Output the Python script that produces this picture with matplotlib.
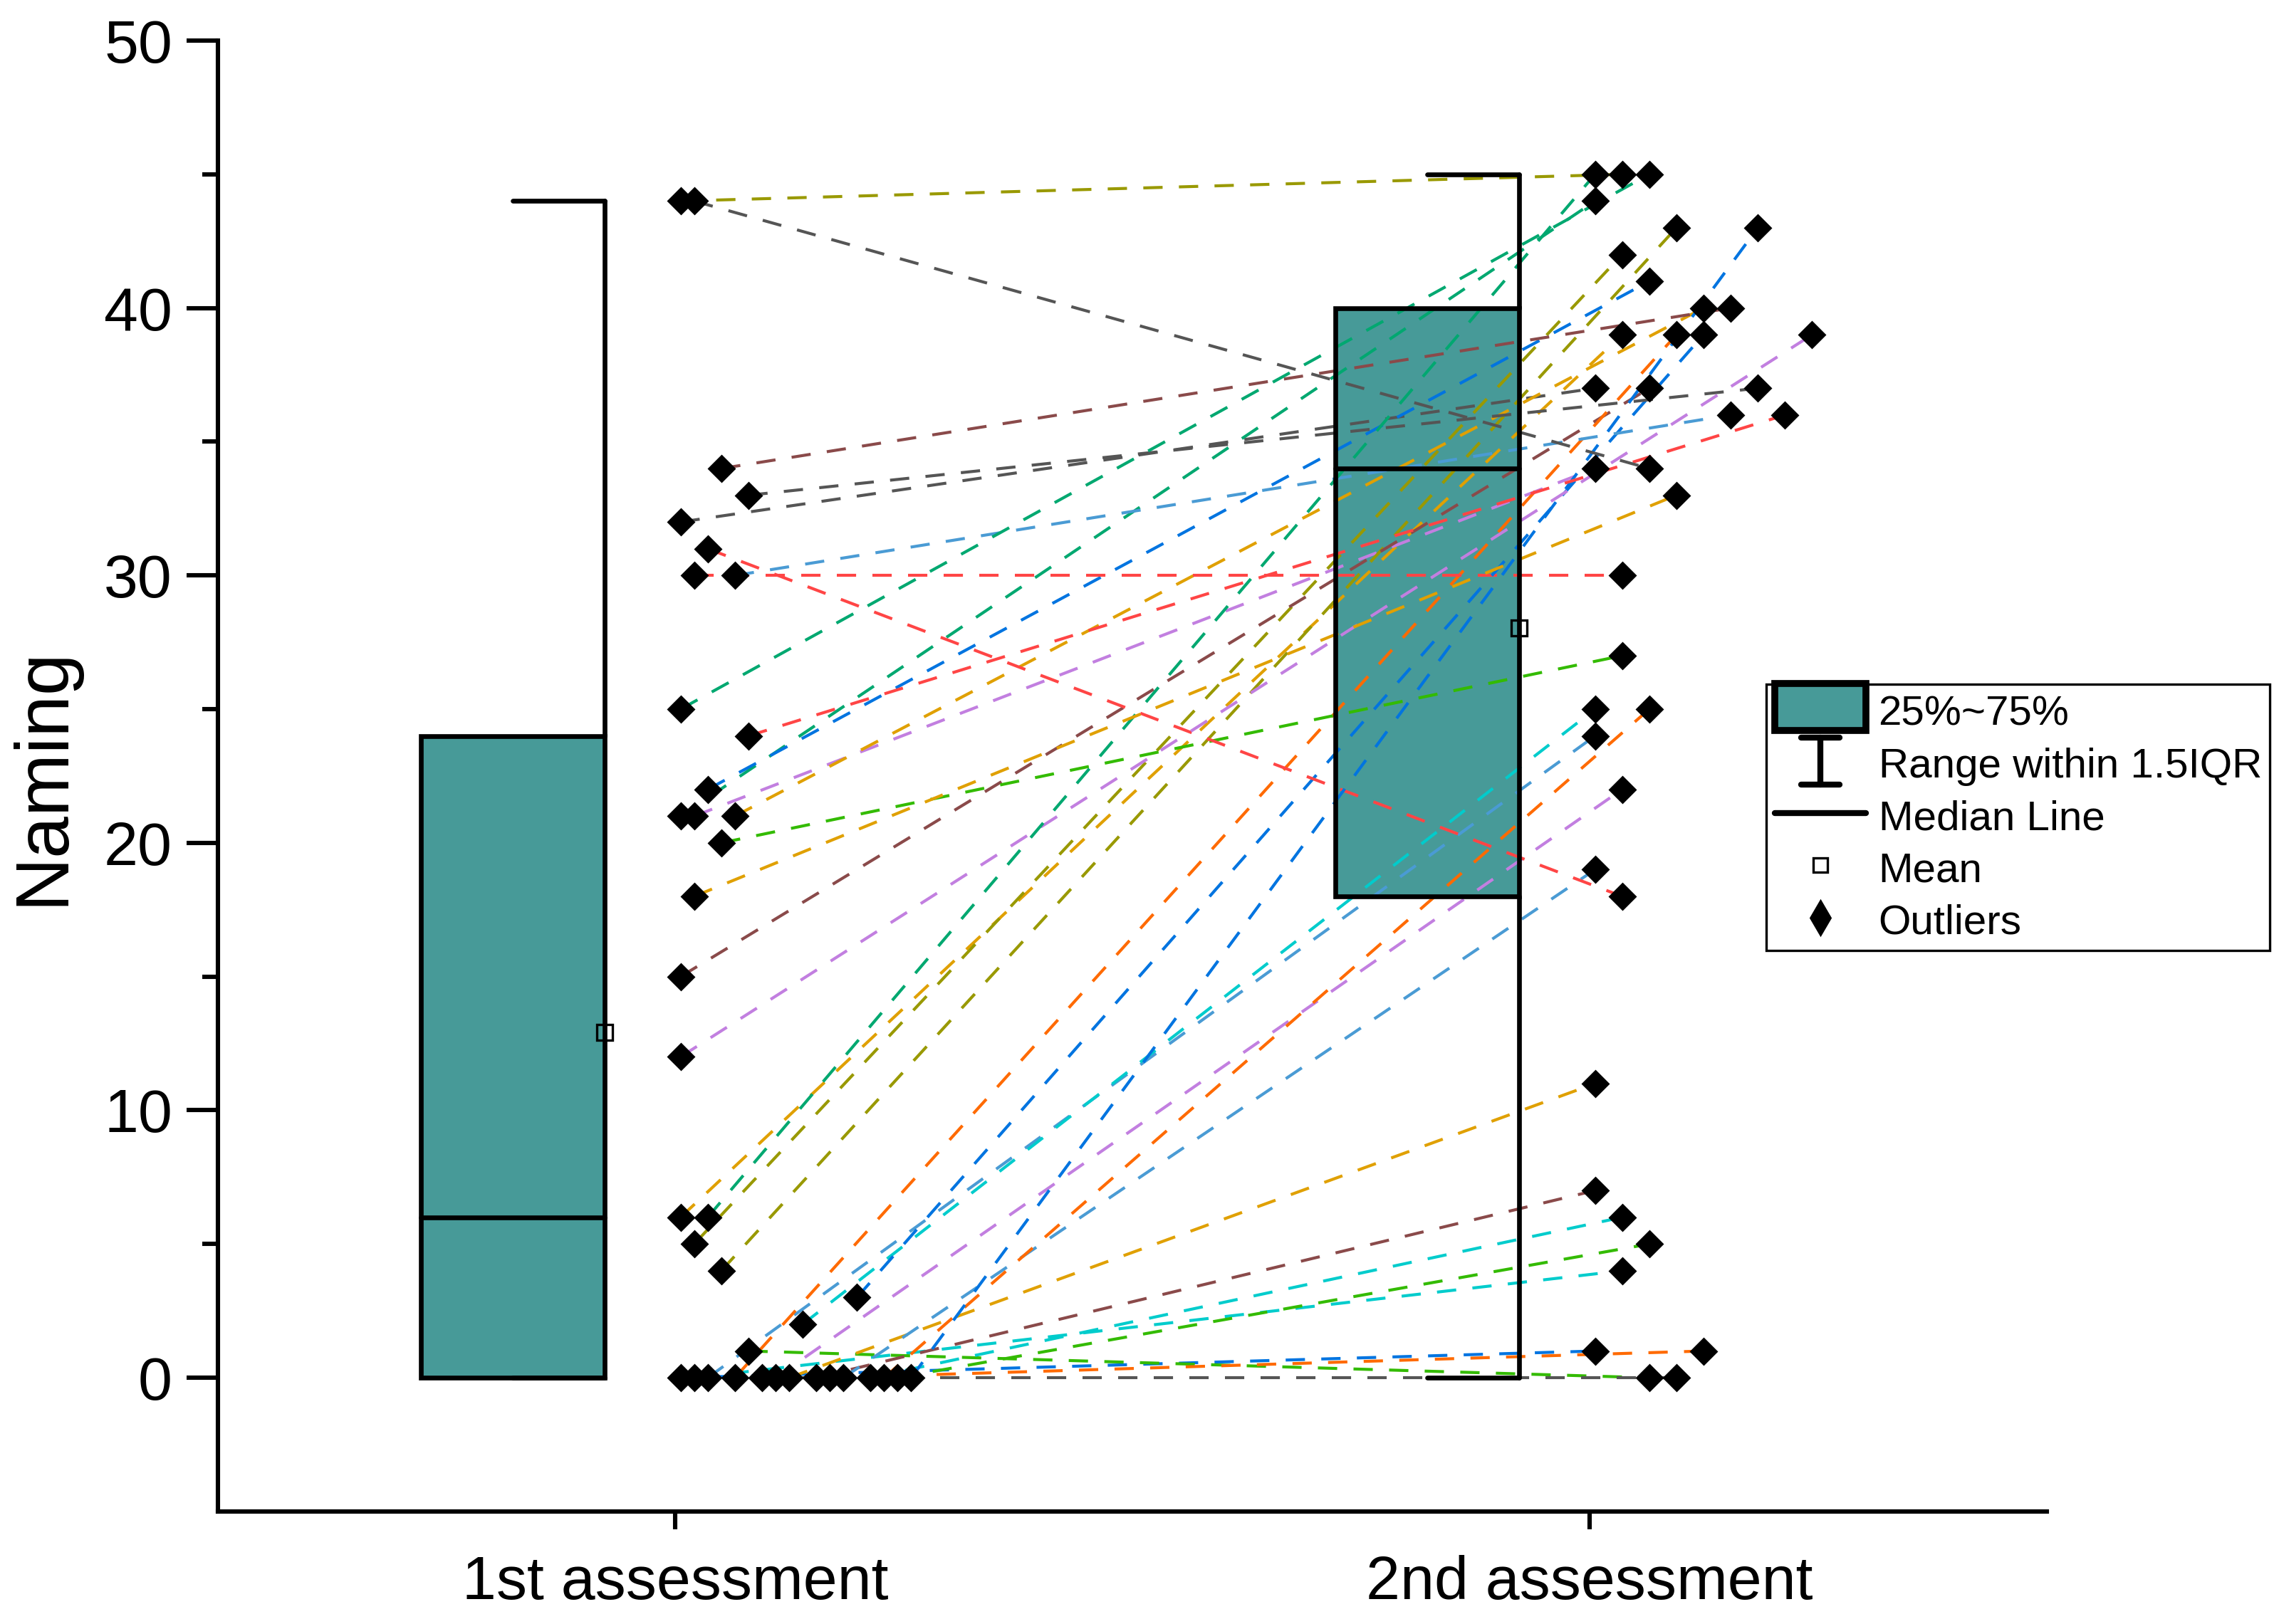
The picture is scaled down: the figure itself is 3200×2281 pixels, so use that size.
import matplotlib.pyplot as plt
import numpy as np
from matplotlib.patches import Rectangle, Patch
from matplotlib.lines import Line2D
from matplotlib.path import Path
from matplotlib.markers import MarkerStyle
from matplotlib.legend_handler import HandlerPatch

plt.rcParams['font.family'] = ['Liberation Sans', 'DejaVu Sans']

groups = ['1st assessment', '2nd assessment']
# one entry per subject, worksheet order (the order decides the jitter slots)
first = [32, 21, 6, 5, 21, 22, 0, 0, 0, 4, 15, 0, 1, 0, 0, 0, 2, 20, 21, 30,
         0, 0, 0, 3, 0, 0, 0, 31, 34, 0, 30, 33, 24, 12, 6, 44, 44, 18, 25]
second = [37, 44, 39, 42, 34, 41, 1, 4, 24, 43, 37, 39, 0, 0, 22, 11, 25, 27, 40, 30,
          7, 1, 19, 39, 6, 25, 5, 18, 40, 43, 36, 37, 36, 39, 45, 45, 34, 33, 45]

gray, green, gold, olive = '#555555', '#00A870', '#E0A000', '#999900'
purple, blue, cyan, lblue = '#C27FE0', '#0074E0', '#00CCCC', '#4A9BD4'
brown, orange, bgreen, red = '#8A4A4A', '#FF6A00', '#33BB00', '#FF4545'
line_colors = [gray, green, gold, olive, purple, blue, blue, cyan, lblue, olive,
               brown, orange, bgreen, gray, purple, gold, cyan, bgreen, gold, red,
               brown, orange, lblue, blue, cyan, orange, bgreen, red, brown, blue,
               lblue, gray, red, purple, green, olive, gray, gold, green]
box_color = '#479A98'


def slots(values):
    # Origin-style bin layout: bins of 5, points side by side in data order
    bins = np.floor(np.asarray(values) / 5).astype(int)
    k = np.zeros(len(values), dtype=int)
    seen = {}
    for i, b in enumerate(bins):
        k[i] = seen.get(b, 0)
        seen[b] = k[i] + 1
    return k, max(seen.values())


fig = plt.figure(figsize=(16, 11.405), dpi=200)
ax = fig.add_axes([0.0956, 0.0693, 0.8025, 0.9057])

positions = [1, 2]
xs = []
for pos, vals in zip(positions, [first, second]):
    vals = np.asarray(vals, dtype=float)
    k, nmax = slots(vals)
    xs.append(pos + 0.006 + k * 0.267 / nmax)

    q1, med, q3 = np.percentile(vals, [25, 50, 75], method='weibull')
    iqr = q3 - q1
    lo = vals[vals >= q1 - 1.5 * iqr].min()
    hi = vals[vals <= q3 + 1.5 * iqr].max()
    left, right = pos - 0.278, pos - 0.077
    mid = (left + right) / 2
    ax.add_patch(Rectangle((left, q1), right - left, q3 - q1, facecolor=box_color,
                           edgecolor='none', zorder=1))
    ax.add_patch(Rectangle((left, q1), right - left, q3 - q1, fill=False,
                           edgecolor='k', lw=2.4, zorder=3))
    kw = dict(color='k', lw=2.4, zorder=3, solid_capstyle='round')
    ax.plot([left, right], [med, med], **kw)
    ax.plot([right, right], [q3, hi], **kw)
    ax.plot([mid, right], [hi, hi], **kw)
    ax.plot([right, right], [lo, q1], **kw)
    ax.plot([mid, right], [lo, lo], **kw)
    ax.plot(right, vals.mean(), marker='s', ms=8, mfc='none', mec='k', mew=1.2, zorder=5)

for i in range(len(first)):
    ax.plot([xs[0][i], xs[1][i]], [first[i], second[i]], color=line_colors[i],
            lw=1.5, linestyle=(0, (6.5, 5.5)), zorder=2)

for x, vals in zip(xs, [first, second]):
    ax.plot(x, vals, ls='none', marker='D', ms=9, color='k', zorder=4)

ax.set_xlim(0.5, 2.5)
ax.set_ylim(-5, 50)
ax.set_xticks(positions)
ax.set_xticklabels(groups)
ax.set_yticks([0, 10, 20, 30, 40, 50])
ax.set_yticks([5, 15, 25, 35, 45], minor=True)
for s in ['top', 'right']:
    ax.spines[s].set_visible(False)
for s in ['left', 'bottom']:
    ax.spines[s].set_linewidth(2.2)
ax.tick_params(axis='y', which='major', length=16, width=2.2, labelsize=31, pad=7)
ax.tick_params(axis='y', which='minor', length=8, width=2.2)
ax.tick_params(axis='x', which='major', length=9, width=2.2, labelsize=31, pad=13)
ax.set_ylabel('Naming', fontsize=38, va='center')
ax.yaxis.set_label_coords(-0.0954, 0.5)


def big_box(legend, orig_handle, xdescent, ydescent, width, height, fontsize):
    return Rectangle((-xdescent, -ydescent - 0.02 * height), width, height * 1.27)


ibeam = Path([(-0.4, 0.5), (0.4, 0.5), (0, 0.5), (0, -0.5), (-0.4, -0.5), (0.4, -0.5)],
             [Path.MOVETO, Path.LINETO, Path.MOVETO, Path.LINETO, Path.MOVETO, Path.LINETO])
box_handle = Patch(facecolor=box_color, edgecolor='k', linewidth=3.5, joinstyle='round')
handles = [
    box_handle,
    Line2D([], [], ls='none', marker=MarkerStyle(ibeam, capstyle='round'), ms=24,
           mfc='none', mec='k', mew=3),
    Line2D([], [], color='k', lw=3, solid_capstyle='round'),
    Line2D([], [], ls='none', marker='s', ms=7, mfc='none', mec='k', mew=1.2),
    Line2D([], [], ls='none', marker='d', ms=12, color='k'),
]
labels = ['25%~75%', 'Range within 1.5IQR', 'Median Line', 'Mean', 'Outliers']
leg = fig.legend(handles, labels, loc='upper left', bbox_to_anchor=(0.775, 0.5787),
                 fontsize=21, frameon=True, fancybox=False, edgecolor='k', framealpha=1,
                 handlelength=2.2, handletextpad=0.3, borderpad=0.2, labelspacing=0.26,
                 handleheight=1.0, borderaxespad=0,
                 handler_map={box_handle: HandlerPatch(patch_func=big_box)})
leg.get_frame().set_linewidth(1.2)

fig.savefig('out.png', dpi=200)
